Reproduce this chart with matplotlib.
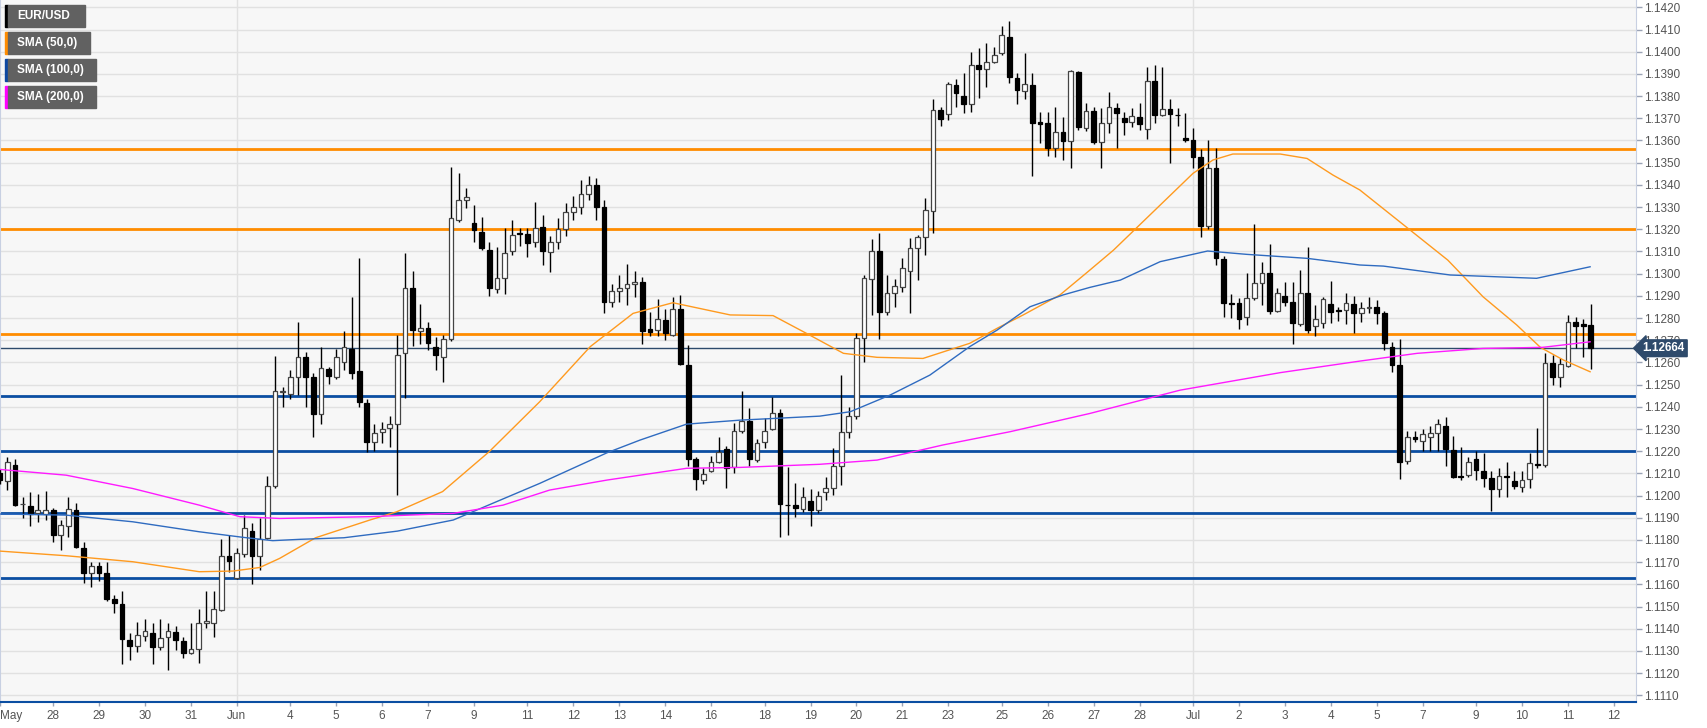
import matplotlib
matplotlib.use("Agg")
import matplotlib.pyplot as plt
from matplotlib.patches import Rectangle
import matplotlib.transforms as mtransforms

plt.rcParams['font.family'] = ['Liberation Sans', 'DejaVu Sans']

# EUR/USD 4h candles (open, high, low, close)
opens = [1.12100, 1.12067, 1.12140, 1.11960, 1.11954, 1.11920, 1.11915, 1.11933, 1.11822, 1.11864,
         1.11933, 1.11762, 1.11649, 1.11681, 1.11649, 1.11532, 1.11511, 1.11350, 1.11322, 1.11367,
         1.11379, 1.11316, 1.11361, 1.11386, 1.11346, 1.11293, 1.11307, 1.11427, 1.11427, 1.11484,
         1.11727, 1.11627, 1.11737, 1.11842, 1.11727, 1.11807, 1.12044, 1.12465, 1.12456, 1.12536,
         1.12626, 1.12536, 1.12366, 1.12570, 1.12536, 1.12603, 1.12660, 1.12563, 1.12418, 1.12240,
         1.12285, 1.12303, 1.12322, 1.12641, 1.12937, 1.12743, 1.12753, 1.12671, 1.12626, 1.12705,
         1.13242, 1.13332, 1.13227, 1.13189, 1.13106, 1.12931, 1.12979, 1.13102, 1.13184, 1.13177,
         1.13144, 1.13209, 1.13099, 1.13144, 1.13200, 1.13280, 1.13300, 1.13360, 1.13400, 1.13300,
         1.12874, 1.12923, 1.12934, 1.12952, 1.12961, 1.12749, 1.12746, 1.12791, 1.12724, 1.12839,
         1.12588, 1.12163, 1.12070, 1.12111, 1.12153, 1.12210, 1.12127, 1.12292, 1.12337, 1.12160,
         1.12243, 1.12300, 1.12371, 1.11958, 1.11958, 1.11941, 1.11977, 1.11935, 1.12014, 1.12032,
         1.12133, 1.12288, 1.12358, 1.12711, 1.12976, 1.13103, 1.12829, 1.12914, 1.12941, 1.13013,
         1.13114, 1.13166, 1.13284, 1.13737, 1.13718, 1.13850, 1.13802, 1.13764, 1.13940, 1.13920,
         1.13955, 1.13992, 1.14065, 1.13883, 1.13824, 1.13850, 1.13685, 1.13677, 1.13564, 1.13640,
         1.13599, 1.13910, 1.13655, 1.13734, 1.13591, 1.13677, 1.13748, 1.13700, 1.13682, 1.13707,
         1.13652, 1.13868, 1.13715, 1.13742, 1.13716, 1.13610, 1.13602, 1.13527, 1.13215, 1.13474,
         1.13064, 1.12868, 1.12866, 1.12803, 1.12889, 1.12956, 1.13001, 1.12833, 1.12901, 1.12871,
         1.12773, 1.12911, 1.12764, 1.12776, 1.12862, 1.12835, 1.12836, 1.12863, 1.12821, 1.12844,
         1.12851, 1.12824, 1.12671, 1.12588, 1.12157, 1.12262, 1.12247, 1.12265, 1.12280, 1.12315,
         1.12205, 1.12090, 1.12093, 1.12163, 1.12112, 1.12078, 1.12028, 1.12088, 1.12067, 1.12040,
         1.12073, 1.12144, 1.12138, 1.12596, 1.12533, 1.12584, 1.12784, 1.12773, 1.12769]
highs = [1.12120, 1.12175, 1.12163, 1.11992, 1.12016, 1.12007, 1.12022, 1.11942, 1.11890, 1.11992,
         1.11965, 1.11792, 1.11702, 1.11702, 1.11702, 1.11552, 1.11571, 1.11379, 1.11432, 1.11442,
         1.11424, 1.11442, 1.11424, 1.11412, 1.11364, 1.11424, 1.11487, 1.11571, 1.11571, 1.11803,
         1.11822, 1.11762, 1.11912, 1.11875, 1.11897, 1.12089, 1.12630, 1.12491, 1.12566, 1.12784,
         1.12647, 1.12551, 1.12671, 1.12581, 1.12659, 1.12743, 1.12893, 1.13072, 1.12434, 1.12322,
         1.12333, 1.12359, 1.12723, 1.13091, 1.13013, 1.12862, 1.12783, 1.12713, 1.12723, 1.13482,
         1.13452, 1.13384, 1.13309, 1.13254, 1.13144, 1.13121, 1.13204, 1.13242, 1.13204, 1.13204,
         1.13324, 1.13264, 1.13170, 1.13250, 1.13320, 1.13350, 1.13420, 1.13440, 1.13430, 1.13330,
         1.12952, 1.12994, 1.13042, 1.13013, 1.12983, 1.12829, 1.12884, 1.12839, 1.12893, 1.12904,
         1.12678, 1.12175, 1.12123, 1.12180, 1.12262, 1.12223, 1.12325, 1.12473, 1.12393, 1.12253,
         1.12348, 1.12446, 1.12389, 1.12130, 1.12055, 1.12037, 1.12028, 1.12022, 1.12085, 1.12213,
         1.12543, 1.12400, 1.12734, 1.12994, 1.13154, 1.13185, 1.12994, 1.12974, 1.13069, 1.13159,
         1.13174, 1.13339, 1.13786, 1.13752, 1.13865, 1.13876, 1.13902, 1.14000, 1.14015, 1.14041,
         1.14023, 1.14116, 1.14140, 1.13902, 1.13993, 1.13902, 1.13730, 1.13730, 1.13752, 1.13704,
         1.13918, 1.13913, 1.13770, 1.13752, 1.13745, 1.13820, 1.13770, 1.13730, 1.13745, 1.13770,
         1.13933, 1.13940, 1.13933, 1.13785, 1.13745, 1.13722, 1.13655, 1.13560, 1.13602, 1.13565,
         1.13079, 1.12908, 1.12889, 1.13001, 1.13224, 1.13054, 1.13133, 1.12934, 1.12964, 1.12964,
         1.13016, 1.13121, 1.12859, 1.12893, 1.12968, 1.12848, 1.12911, 1.12901, 1.12874, 1.12893,
         1.12881, 1.12833, 1.12693, 1.12704, 1.12292, 1.12292, 1.12298, 1.12313, 1.12343, 1.12355,
         1.12268, 1.12220, 1.12175, 1.12202, 1.12190, 1.12112, 1.12123, 1.12153, 1.12112, 1.12112,
         1.12190, 1.12303, 1.12641, 1.12633, 1.12618, 1.12814, 1.12803, 1.12794, 1.12863]
lows = [1.12050, 1.12025, 1.11953, 1.11900, 1.11863, 1.11882, 1.11890, 1.11792, 1.11755, 1.11812,
        1.11762, 1.11604, 1.11586, 1.11615, 1.11525, 1.11472, 1.11239, 1.11259, 1.11296, 1.11346,
        1.11239, 1.11304, 1.11214, 1.11304, 1.11266, 1.11286, 1.11247, 1.11402, 1.11364, 1.11481,
        1.11657, 1.11624, 1.11724, 1.11600, 1.11664, 1.11803, 1.12032, 1.12400, 1.12434, 1.12453,
        1.12400, 1.12262, 1.12321, 1.12501, 1.12524, 1.12566, 1.12524, 1.12400, 1.12198, 1.12201,
        1.12235, 1.12220, 1.12002, 1.12438, 1.12674, 1.12683, 1.12656, 1.12566, 1.12510, 1.12696,
        1.13234, 1.13294, 1.13144, 1.13106, 1.12899, 1.12911, 1.12908, 1.13084, 1.13124, 1.13076,
        1.13118, 1.13039, 1.13009, 1.13110, 1.13170, 1.13240, 1.13270, 1.13330, 1.13240, 1.12821,
        1.12848, 1.12874, 1.12859, 1.12896, 1.12681, 1.12719, 1.12719, 1.12701, 1.12719, 1.12588,
        1.12133, 1.12025, 1.12051, 1.12105, 1.12145, 1.12033, 1.12103, 1.12283, 1.12133, 1.12153,
        1.12213, 1.12296, 1.11815, 1.11822, 1.11905, 1.11925, 1.11863, 1.11920, 1.11980, 1.12002,
        1.12047, 1.12258, 1.12343, 1.12603, 1.12813, 1.12704, 1.12813, 1.12851, 1.12919, 1.12824,
        1.12971, 1.13084, 1.13185, 1.13665, 1.13692, 1.13752, 1.13722, 1.13730, 1.13790, 1.13842,
        1.13947, 1.13985, 1.13857, 1.13764, 1.13785, 1.13440, 1.13590, 1.13530, 1.13527, 1.13512,
        1.13474, 1.13647, 1.13644, 1.13584, 1.13474, 1.13632, 1.13565, 1.13625, 1.13662, 1.13647,
        1.13605, 1.13680, 1.13710, 1.13500, 1.13665, 1.13595, 1.13474, 1.13164, 1.13200, 1.13039,
        1.12806, 1.12798, 1.12749, 1.12768, 1.12881, 1.12859, 1.12818, 1.12829, 1.12856, 1.12683,
        1.12764, 1.12734, 1.12719, 1.12753, 1.12779, 1.12788, 1.12773, 1.12731, 1.12784, 1.12821,
        1.12773, 1.12656, 1.12555, 1.12073, 1.12142, 1.12243, 1.12202, 1.12202, 1.12202, 1.12133,
        1.12078, 1.12070, 1.12085, 1.12070, 1.12040, 1.11932, 1.11995, 1.11992, 1.12028, 1.12018,
        1.12033, 1.12123, 1.12130, 1.12498, 1.12491, 1.12578, 1.12663, 1.12626, 1.12571]
closes = [1.12070, 1.12152, 1.11957, 1.11962, 1.11915, 1.11933, 1.11933, 1.11822, 1.11866, 1.11938,
          1.11768, 1.11652, 1.11681, 1.11652, 1.11534, 1.11514, 1.11353, 1.11322, 1.11373, 1.11392,
          1.11319, 1.11358, 1.11391, 1.11349, 1.11293, 1.11307, 1.11424, 1.11436, 1.11487, 1.11727,
          1.11705, 1.11742, 1.11852, 1.11727, 1.11803, 1.12044, 1.12471, 1.12470, 1.12533, 1.12626,
          1.12536, 1.12367, 1.12573, 1.12539, 1.12623, 1.12671, 1.12551, 1.12423, 1.12243, 1.12283,
          1.12301, 1.12324, 1.12633, 1.12937, 1.12746, 1.12753, 1.12686, 1.12633, 1.12705, 1.13249,
          1.13332, 1.13344, 1.13197, 1.13114, 1.12937, 1.12979, 1.13091, 1.13174, 1.13177, 1.13136,
          1.13207, 1.13102, 1.13144, 1.13200, 1.13280, 1.13300, 1.13360, 1.13400, 1.13300, 1.12874,
          1.12923, 1.12934, 1.12952, 1.12964, 1.12743, 1.12739, 1.12794, 1.12731, 1.12839, 1.12593,
          1.12165, 1.12073, 1.12096, 1.12153, 1.12198, 1.12123, 1.12292, 1.12337, 1.12165, 1.12235,
          1.12292, 1.12374, 1.11961, 1.11956, 1.11943, 1.11992, 1.11935, 1.11998, 1.12032, 1.12133,
          1.12288, 1.12358, 1.12711, 1.12979, 1.13103, 1.12829, 1.12914, 1.12944, 1.13024, 1.13114,
          1.13166, 1.13287, 1.13737, 1.13695, 1.13853, 1.13815, 1.13764, 1.13940, 1.13920, 1.13955,
          1.13985, 1.14075, 1.13887, 1.13827, 1.13854, 1.13677, 1.13674, 1.13564, 1.13640, 1.13599,
          1.13913, 1.13659, 1.13734, 1.13591, 1.13677, 1.13749, 1.13725, 1.13685, 1.13712, 1.13674,
          1.13868, 1.13715, 1.13742, 1.13718, 1.13713, 1.13602, 1.13527, 1.13215, 1.13474, 1.13072,
          1.12869, 1.12865, 1.12796, 1.12889, 1.12956, 1.13004, 1.12833, 1.12914, 1.12874, 1.12776,
          1.12911, 1.12746, 1.12794, 1.12884, 1.12826, 1.12832, 1.12866, 1.12821, 1.12844, 1.12851,
          1.12824, 1.12686, 1.12588, 1.12153, 1.12265, 1.12253, 1.12276, 1.12283, 1.12322, 1.12208,
          1.12085, 1.12082, 1.12153, 1.12115, 1.12078, 1.12028, 1.12088, 1.12085, 1.12043, 1.12070,
          1.12145, 1.12138, 1.12599, 1.12536, 1.12593, 1.12784, 1.12766, 1.12764, 1.12664]

# moving averages (candle index, value)
sma50_idx = [0, 8.7, 17.4, 26.1, 30.5, 34, 36.6, 41.3, 48.4, 51.9, 57.9, 64, 70.6, 77.2, 82.8, 88,
             95.5, 101.1, 105.9, 110.3, 114.7, 120.7, 126.8, 130.4, 133.8, 138.6, 142.3, 145.6,
             150.8, 156, 158.6, 161.2, 164.8, 167.4, 170.9, 174.3, 177.8, 189.3, 193.9, 198.3,
             201.4, 204.4, 207.9]
sma50_val = [1.11750, 1.11729, 1.11702, 1.11657, 1.11660, 1.11676, 1.11717, 1.11810, 1.11890,
             1.11927, 1.12018, 1.12198, 1.12423, 1.12671, 1.12821, 1.12869, 1.12814, 1.12811,
             1.12723, 1.12641, 1.12623, 1.12618, 1.12686, 1.12754, 1.12814, 1.12904, 1.13010,
             1.13106, 1.13279, 1.13452, 1.13512, 1.13539, 1.13539, 1.13539, 1.13519, 1.13444,
             1.13377, 1.13061, 1.12896, 1.12769, 1.12668, 1.12611, 1.12558]
sma100_idx = [0, 8.7, 17.4, 26.1, 31.8, 35.7, 39.3, 45, 52, 59.3, 70.6, 79.4, 83.7, 89.8, 96.8,
              107.2, 111.2, 116.4, 121.6, 126.8, 130.4, 134.7, 139, 142.5, 146.5, 151.7, 157.9,
              163, 170.9, 177.8, 180.9, 189.6, 200.9, 207.9]
sma100_val = [1.11917, 1.11912, 1.11882, 1.11837, 1.11812, 1.11797, 1.11803, 1.11810, 1.11840,
              1.11890, 1.12055, 1.12193, 1.12250, 1.12322, 1.12340, 1.12358, 1.12378, 1.12453,
              1.12543, 1.12671, 1.12746, 1.12851, 1.12904, 1.12938, 1.12971, 1.13054, 1.13102,
              1.13087, 1.13069, 1.13039, 1.13034, 1.12994, 1.12979, 1.13031]
sma200_idx = [0, 8.7, 17.4, 26.1, 31.4, 36.6, 48.4, 59.3, 65.8, 71.9, 79.4, 89.8, 96.8, 107.2,
              114.7, 123.3, 132.1, 142.5, 154.3, 167.4, 177.8, 185.3, 193.9, 201.7, 207.9]
sma200_val = [1.12118, 1.12092, 1.12032, 1.11957, 1.11905, 1.11897, 1.11905, 1.11920, 1.11957,
              1.12025, 1.12070, 1.12123, 1.12127, 1.12141, 1.12160, 1.12228, 1.12288, 1.12370,
              1.12475, 1.12554, 1.12606, 1.12641, 1.12663, 1.12668, 1.12693]

# support / resistance levels
resistance = [1.1356, 1.1320, 1.1273]
support = [1.1245, 1.1220, 1.1192, 1.1163]
last_price = 1.12664

tick_idx = [0.1, 7, 13, 19, 25, 31, 38, 44, 50, 56, 62, 69, 75, 81, 87, 93, 100, 106, 112, 118,
            124, 131, 137, 143, 149, 156, 162, 168, 174, 180, 186, 193, 199, 205, 211]
tick_labels = ['May', '28', '29', '30', '31', 'Jun', '4', '5', '6', '7', '9', '11', '12', '13',
               '14', '16', '18', '19', '20', '21', '23', '25', '26', '27', '28', 'Jul', '2', '3',
               '4', '5', '7', '9', '10', '11', '12']
month_idx = [31, 156]

legend_items = [('EUR/USD', '#000000', 80), ('SMA (50,0)', '#FF8C00', 85),
                ('SMA (100,0)', '#0D47A1', 91), ('SMA (200,0)', '#FF00FF', 91)]

W, H = 1707, 728
fig = plt.figure(figsize=(W / 100, H / 100), dpi=100)
fig.patch.set_facecolor('white')
ax = fig.add_axes([0, 26 / H, 1636 / W, 702 / H])
ax.set_facecolor('#F7F7F7')
ax.set_xlim(0.05, 213.9)
ax.set_ylim(1.11070, 1.14233)

# grid
yt = [1.1110 + 0.001 * k for k in range(32)]
ax.set_yticks(yt)
ax.set_yticklabels(['%.4f' % v for v in yt])
ax.grid(axis='y', color='#E1E1E1', lw=1, zorder=0)
for m in month_idx:
    ax.axvline(m, color='#E1E1E1', lw=1, zorder=0)

for lv in resistance:
    ax.axhline(lv, color='#FF8C00', lw=2, zorder=2)
for lv in support:
    ax.axhline(lv, color='#0B4EA2', lw=2, zorder=2)
ax.axhline(last_price, color='#2E4A6B', lw=1, zorder=2)

# candles
n = len(opens)
xs = list(range(n))
ax.vlines(xs, lows, highs, color='black', lw=1, zorder=3)
for i in xs:
    o, c = opens[i], closes[i]
    bottom = min(o, c)
    hgt = max(abs(c - o), 0.00003)
    if c >= o:
        ax.bar(i, hgt, bottom=bottom, width=0.62, color='white', edgecolor='#444444', lw=0.9, zorder=3.5)
    else:
        ax.bar(i, hgt, bottom=bottom, width=0.62, color='black', edgecolor='black', lw=0.9, zorder=3.5)

# moving averages
ax.plot(sma50_idx, sma50_val, color='#FF9A1F', lw=1, zorder=4)
ax.plot(sma100_idx, sma100_val, color='#2F6BC0', lw=1, zorder=4)
ax.plot(sma200_idx, sma200_val, color='#FF1AFF', lw=1, zorder=4)

# axes styling
ax.yaxis.tick_right()
ax.tick_params(axis='y', length=4, width=1, color='#9AA3B5', labelcolor='#555555',
               labelsize=8.5, pad=2)
ax.set_xticks(tick_idx)
ax.set_xticklabels(tick_labels, family=['Liberation Sans Narrow', 'Liberation Sans'])
ax.tick_params(axis='x', length=3, width=1, color='#9AA3B5', labelcolor='#555555',
               labelsize=8.5, pad=3)
ax.get_xticklabels()[0].set_horizontalalignment('left')
for sp in ['left', 'right', 'top']:
    ax.spines[sp].set_color('#C8D0E2')
ax.spines['top'].set_visible(False)
ax.spines['bottom'].set_color('#0B4EA2')
ax.spines['bottom'].set_linewidth(1.5)

# last price tag
trans = mtransforms.blended_transform_factory(ax.transAxes, ax.transData)
ax.text(1.004, last_price, '1.12664', transform=trans, color='white', fontsize=8.5,
        fontweight='bold', va='center', ha='left', zorder=10, clip_on=False,
        bbox=dict(boxstyle='larrow,pad=0.2', fc='#2E4A6B', ec='#2E4A6B'))

# legend boxes top left
for k, (name, col, wpx) in enumerate(legend_items):
    top = 5 + 27 * k
    fig.patches.append(Rectangle((5 / W, 1 - (top + 22) / H), 2.5 / W, 22 / H,
                                 transform=fig.transFigure, color=col, zorder=20))
    fig.patches.append(Rectangle((7.5 / W, 1 - (top + 22) / H), (wpx - 2.5) / W, 22 / H,
                                 transform=fig.transFigure, color='#616161', zorder=20))
    fig.text(17 / W, 1 - (top + 11) / H, name, color='white', fontsize=8.5, fontweight='bold',
             va='center', ha='left', zorder=21)

fig.savefig('out.png', dpi=100)
